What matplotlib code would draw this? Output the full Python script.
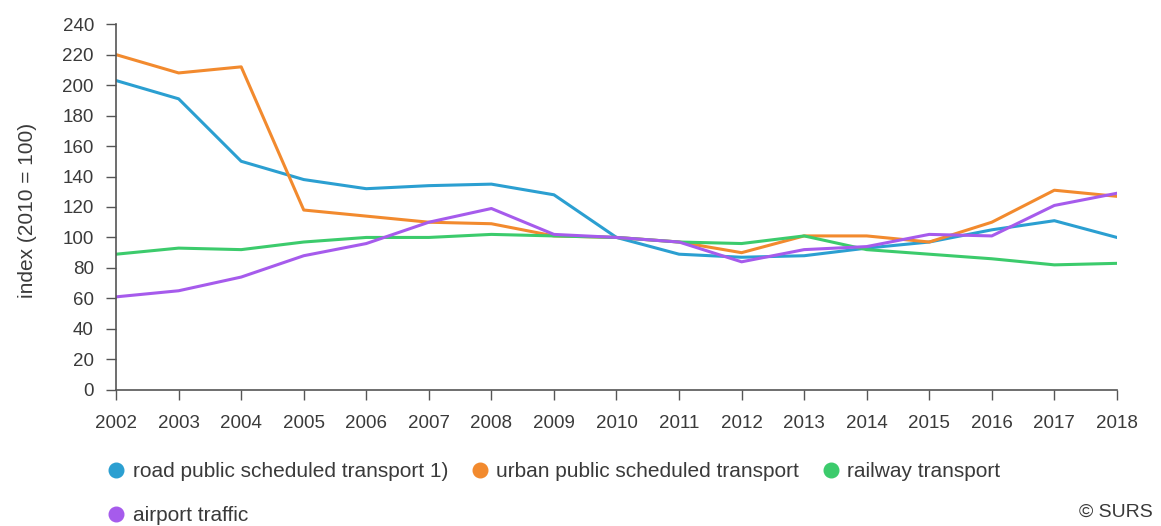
import matplotlib
matplotlib.use("Agg")
import matplotlib.pyplot as plt
from matplotlib.lines import Line2D

years = list(range(2002, 2019))

# index values, 2010 = 100
road = [203, 191, 150, 138, 132, 134, 135, 128, 100, 89, 87, 88, 93, 97, 105, 111, 100]
urban = [220, 208, 212, 118, 114, 110, 109, 101, 100, 97, 90, 101, 101, 97, 110, 131, 127]
railway = [89, 93, 92, 97, 100, 100, 102, 101, 100, 97, 96, 101, 92, 89, 86, 82, 83]
airport = [61, 65, 74, 88, 96, 110, 119, 102, 100, 97, 84, 92, 94, 102, 101, 121, 129]

names = ["road public scheduled transport 1)", "urban public scheduled transport",
         "railway transport", "airport traffic"]
colors = ["#2b9fd1", "#f28a2e", "#3ccb6c", "#a65bec"]

plt.rcParams['font.family'] = ['Liberation Sans', 'DejaVu Sans']

fig = plt.figure(figsize=(11.61, 5.26), dpi=100)
ax = fig.add_axes([0.1, 0.259, 0.862, 0.695])

for vals, c in zip([road, urban, railway, airport], colors):
    ax.plot(years, vals, color=c, lw=2.2)

ax.set_xlim(2002, 2018)
ax.set_ylim(0, 240)
ax.set_xticks(years)
ax.set_yticks(range(0, 241, 20))
ax.tick_params(colors="#555555", labelcolor="#3a3a3a", labelsize=13.5, length=7, width=1)
ax.tick_params(axis='x', pad=11)
ax.tick_params(axis='y', pad=9)
for s in ["top", "right"]:
    ax.spines[s].set_visible(False)
for s in ["left", "bottom"]:
    ax.spines[s].set_color("#555555")
    ax.spines[s].set_linewidth(1.2)
ax.set_ylabel("index (2010 = 100)", fontsize=15, color="#3a3a3a")
ax.yaxis.set_label_coords(-0.079, 0.49)

handles = [Line2D([], [], ls='none', marker='o', markersize=10.5, color=c) for c in colors]
order = [0, 3, 1, 2]
fig.legend([handles[i] for i in order], [names[i] for i in order],
           ncol=3, loc="upper left", bbox_to_anchor=(0.077, 0.157),
           frameon=False, fontsize=15, handlelength=0.8, handletextpad=0.4,
           columnspacing=1.1, labelspacing=1.2, labelcolor="#3a3a3a")

fig.text(0.993, 0.01, "© SURS", ha="right", va="bottom", fontsize=14, color="#3a3a3a")

fig.savefig("out.png", dpi=100)
